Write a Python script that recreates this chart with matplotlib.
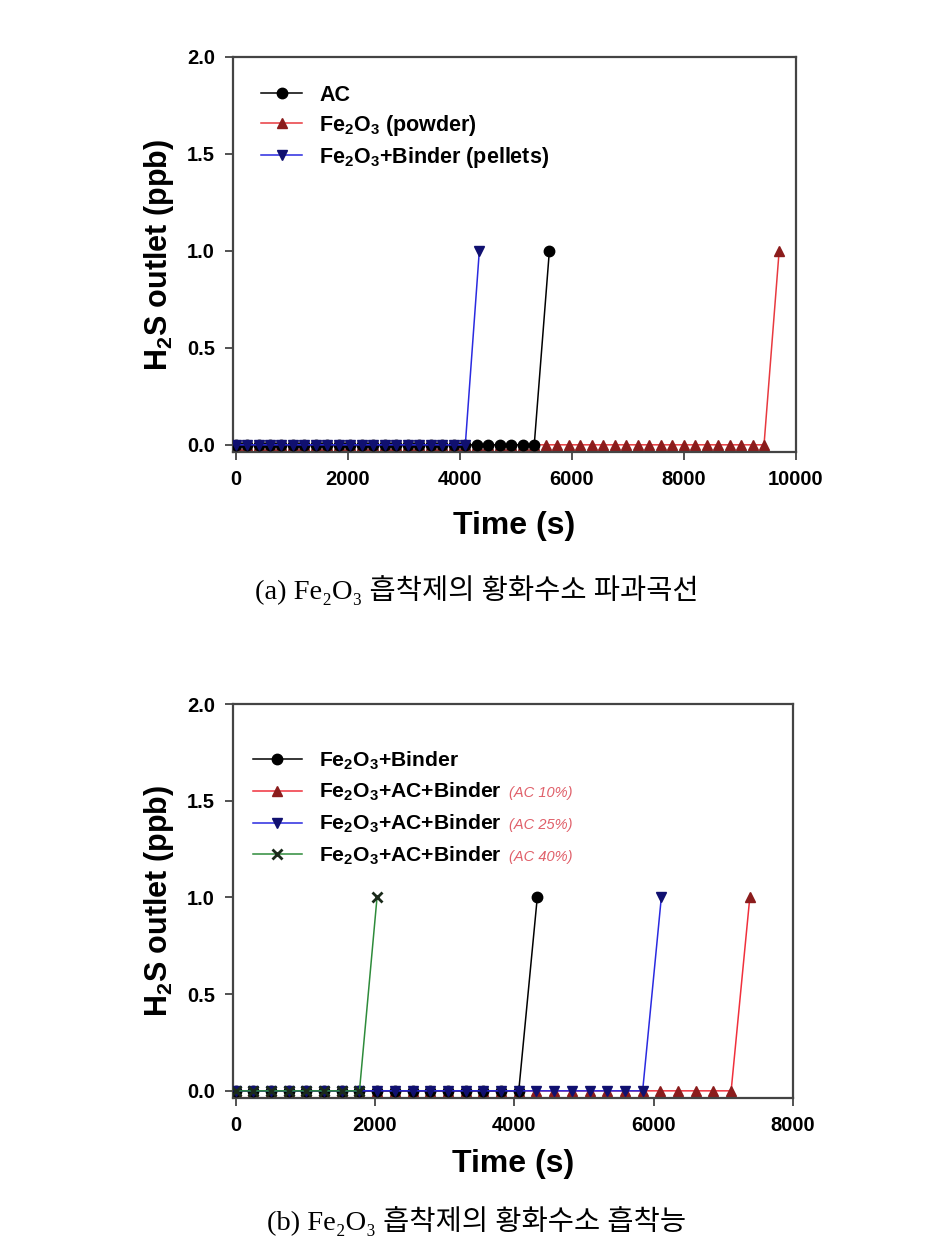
import matplotlib
matplotlib.use("Agg")
import matplotlib.pyplot as plt

plt.rcParams['font.family'] = ['Liberation Sans', 'DejaVu Sans']
plt.rcParams['mathtext.default'] = 'regular'

# ---------------- data: panel (a) ----------------
t_ac = [0, 205, 410, 615, 820, 1025, 1230, 1435, 1640, 1845, 2050, 2255, 2460, 2665,
        2870, 3075, 3280, 3485, 3690, 3895, 4100, 4305, 4510, 4715, 4920, 5125, 5330, 5600]
y_ac = [0, 0, 0, 0, 0, 0, 0, 0, 0, 0, 0, 0, 0, 0,
        0, 0, 0, 0, 0, 0, 0, 0, 0, 0, 0, 0, 0, 1.0]

t_powder = [0, 205, 410, 615, 820, 1025, 1230, 1435, 1640, 1845, 2050, 2255, 2460, 2665,
            2870, 3075, 3280, 3485, 3690, 3895, 4100, 4305, 4510, 4715, 4920, 5125, 5330,
            5535, 5740, 5945, 6150, 6355, 6560, 6765, 6970, 7175, 7380, 7585, 7790, 7995,
            8200, 8405, 8610, 8815, 9020, 9225, 9430, 9700]
y_powder = [0, 0, 0, 0, 0, 0, 0, 0, 0, 0, 0, 0, 0, 0,
            0, 0, 0, 0, 0, 0, 0, 0, 0, 0, 0, 0, 0,
            0, 0, 0, 0, 0, 0, 0, 0, 0, 0, 0, 0, 0,
            0, 0, 0, 0, 0, 0, 0, 1.0]

t_pellet = [0, 205, 410, 615, 820, 1025, 1230, 1435, 1640, 1845, 2050, 2255, 2460, 2665,
            2870, 3075, 3280, 3485, 3690, 3895, 4100, 4350]
y_pellet = [0, 0, 0, 0, 0, 0, 0, 0, 0, 0, 0, 0, 0, 0,
            0, 0, 0, 0, 0, 0, 0, 1.0]

labels_a = ["AC", "Fe$_2$O$_3$ (powder)", "Fe$_2$O$_3$+Binder (pellets)"]
xticks_a = [0, 2000, 4000, 6000, 8000, 10000]

# ---------------- data: panel (b) ----------------
t_binder = [0, 254, 508, 762, 1016, 1270, 1524, 1778, 2032, 2286, 2540, 2794, 3048, 3302,
            3556, 3810, 4064, 4330]
y_binder = [0, 0, 0, 0, 0, 0, 0, 0, 0, 0, 0, 0, 0, 0,
            0, 0, 0, 1.0]

t_ac10 = [0, 254, 508, 762, 1016, 1270, 1524, 1778, 2032, 2286, 2540, 2794, 3048, 3302,
          3556, 3810, 4064, 4318, 4572, 4826, 5080, 5334, 5588, 5842, 6096, 6350, 6604,
          6858, 7112, 7380]
y_ac10 = [0, 0, 0, 0, 0, 0, 0, 0, 0, 0, 0, 0, 0, 0,
          0, 0, 0, 0, 0, 0, 0, 0, 0, 0, 0, 0, 0,
          0, 0, 1.0]

t_ac25 = [0, 254, 508, 762, 1016, 1270, 1524, 1778, 2032, 2286, 2540, 2794, 3048, 3302,
          3556, 3810, 4064, 4318, 4572, 4826, 5080, 5334, 5588, 5842, 6110]
y_ac25 = [0, 0, 0, 0, 0, 0, 0, 0, 0, 0, 0, 0, 0, 0,
          0, 0, 0, 0, 0, 0, 0, 0, 0, 0, 1.0]

t_ac40 = [0, 254, 508, 762, 1016, 1270, 1524, 1778, 2030]
y_ac40 = [0, 0, 0, 0, 0, 0, 0, 0, 1.0]

labels_b = ["Fe$_2$O$_3$+Binder", "Fe$_2$O$_3$+AC+Binder", "Fe$_2$O$_3$+AC+Binder",
            "Fe$_2$O$_3$+AC+Binder"]
notes_b = ["", "(AC 10%)", "(AC 25%)", "(AC 40%)"]
xticks_b = [0, 2000, 4000, 6000, 8000]

yticks = [0.0, 0.5, 1.0, 1.5, 2.0]
captions = ["(a) Fe\u2082O\u2083 흡착제의 황화수소 파과곡선",
            "(b) Fe\u2082O\u2083 흡착제의 황화수소 흡착능"]

# ---------------- figure ----------------
fig = plt.figure(figsize=(9.25, 12.5), dpi=100)
ax1 = fig.add_axes([0.2519, 0.6384, 0.6086, 0.316])
ax2 = fig.add_axes([0.2519, 0.1216, 0.6054, 0.3152])

LW = 1.1
MS = 7.5


def style(ax, xmin, xmax, xticks, xpad):
    ax.set_xlim(xmin, xmax)
    ax.set_ylim(-0.037, 2.0)
    ax.set_xticks(xticks)
    ax.set_yticks(yticks)
    ax.set_yticklabels([f"{v:.1f}" for v in yticks])
    for s in ax.spines.values():
        s.set_linewidth(1.6)
        s.set_color('#444444')
    ax.tick_params(direction='out', length=6, width=1.3, color='#444444',
                   labelsize=14.5, top=False, right=False, pad=7)
    for lab in ax.get_xticklabels() + ax.get_yticklabels():
        lab.set_fontweight('bold')
    ax.set_xlabel("Time (s)", fontsize=23, fontweight='bold', labelpad=xpad)
    ax.set_ylabel("H$_2$S outlet (ppb)", fontsize=22, fontweight='bold', labelpad=8)


# panel (a)
h_fe, = ax1.plot(t_powder, y_powder, '-', color='#e8393f', lw=LW, marker='^', ms=MS - 1,
                 mfc='#8b1c1c', mec='#8b1c1c', zorder=2)
h_ac, = ax1.plot(t_ac, y_ac, '-', color='black', lw=LW, marker='o', ms=MS,
                 mfc='black', mec='black', zorder=3)
h_pel, = ax1.plot(t_pellet, y_pellet, '-', color='#2a2ae0', lw=LW, marker='v', ms=MS,
                  mfc='#101070', mec='#101070', zorder=4)
style(ax1, -45, 10000, xticks_a, 16)
leg1 = ax1.legend([h_ac, h_fe, h_pel], labels_a, loc='upper left',
                  bbox_to_anchor=(0.05, 0.93), frameon=False,
                  prop={'weight': 'bold', 'size': 15.5}, handlelength=1.9,
                  handletextpad=0.8, labelspacing=0.33, borderpad=0, borderaxespad=0)

# panel (b)
h_10, = ax2.plot(t_ac10, y_ac10, '-', color='#f0303c', lw=LW, marker='^', ms=MS - 1,
                 mfc='#8b1c1c', mec='#8b1c1c', zorder=2)
h_b, = ax2.plot(t_binder, y_binder, '-', color='black', lw=LW, marker='o', ms=MS,
                mfc='black', mec='black', zorder=3)
h_25, = ax2.plot(t_ac25, y_ac25, '-', color='#2a2ae0', lw=LW, marker='v', ms=MS,
                 mfc='#101070', mec='#101070', zorder=4)
h_40, = ax2.plot(t_ac40, y_ac40, '-', color='#2e8b3a', lw=LW, marker='x', ms=MS - 1,
                 mew=2, mfc='#1a2a1a', mec='#1a2a1a', zorder=5)
style(ax2, -37, 8000, xticks_b, 10)
leg2 = ax2.legend([h_b, h_10, h_25, h_40], labels_b, loc='upper left',
                  bbox_to_anchor=(0.036, 0.885), frameon=False,
                  prop={'weight': 'bold', 'size': 15.2}, handlelength=2.3,
                  handletextpad=0.8, labelspacing=0.45, borderpad=0, borderaxespad=0)

fig.canvas.draw()
renderer = fig.canvas.get_renderer()
inv = fig.transFigure.inverted()
for txt, note in zip(leg2.get_texts(), notes_b):
    if not note:
        continue
    bb = txt.get_window_extent(renderer)
    x0, y0 = inv.transform((bb.x1 + 8, (bb.y0 + bb.y1) / 2 - 1))
    fig.text(x0, y0, note, fontsize=10.5, style='italic', color='#e0606a',
             va='center', ha='left')

# captions
cap_font = ['Liberation Serif', 'DejaVu Serif', 'Noto Sans CJK KR']
fig.text(0.516, 0.528, captions[0], fontsize=20.5, family=cap_font, ha='center', va='center')
fig.text(0.515, 0.0235, captions[1], fontsize=20.5, family=cap_font, ha='center', va='center')

fig.savefig("out.png", dpi=100)
